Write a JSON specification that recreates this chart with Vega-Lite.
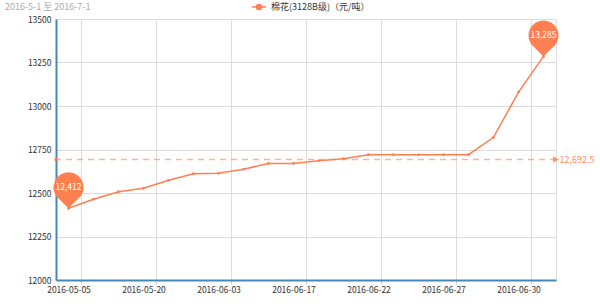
{
  "$schema": "https://vega.github.io/schema/vega-lite/v6.json",
  "width": 500,
  "height": 261,
  "autosize": {"type": "none"},
  "padding": {"left": 56, "top": 19, "right": 44, "bottom": 27},
  "config": {
    "font": "Noto Sans CJK SC",
    "view": {"stroke": "#dddddd"}
  },
  "title": {
    "text": "2016-5-1 至 2016-7-1",
    "anchor": "start",
    "frame": "group",
    "dx": -51,
    "dy": 17,
    "fontSize": 9,
    "fontWeight": "normal",
    "color": "#aaaaaa",
    "offset": 6
  },
  "data": {
    "values": [
      {"date": "2016-05-05", "price": 12412},
      {"date": "2016-05-10", "price": 12464},
      {"date": "2016-05-13", "price": 12507},
      {"date": "2016-05-20", "price": 12527},
      {"date": "2016-05-24", "price": 12573},
      {"date": "2016-05-27", "price": 12611},
      {"date": "2016-06-03", "price": 12613},
      {"date": "2016-06-08", "price": 12636},
      {"date": "2016-06-13", "price": 12670},
      {"date": "2016-06-17", "price": 12670},
      {"date": "2016-06-20", "price": 12685},
      {"date": "2016-06-21", "price": 12697},
      {"date": "2016-06-22", "price": 12720},
      {"date": "2016-06-23", "price": 12720},
      {"date": "2016-06-24", "price": 12720},
      {"date": "2016-06-27", "price": 12720},
      {"date": "2016-06-28", "price": 12720},
      {"date": "2016-06-29", "price": 12820},
      {"date": "2016-06-30", "price": 13080},
      {"date": "2016-07-01", "price": 13285}
    ]
  },
  "layer": [
    {
      "transform": [{"aggregate": [{"op": "mean", "field": "price", "as": "avg"}]}],
      "mark": {"type": "rule", "color": "#ff7f50", "opacity": 0.6, "strokeDash": [6, 5], "strokeWidth": 1.5},
      "encoding": {
        "y": {"field": "avg", "type": "quantitative", "scale": {"domain": [12000, 13500], "nice": false}}
      }
    },
    {
      "mark": {"type": "line", "strokeWidth": 1.5},
      "encoding": {
        "x": {
          "field": "date", "type": "ordinal", "title": null,
          "axis": {
            "values": ["2016-05-05", "2016-05-20", "2016-06-03", "2016-06-17", "2016-06-22", "2016-06-27", "2016-06-30"],
            "labelAngle": 0, "grid": true, "gridColor": "#dddddd", "gridWidth": 1,
            "tickOffset": 12.5, "labelOffset": -12.5,
            "tickColor": "#cccccc", "tickSize": 4,
            "domainColor": "#4488bb", "domainWidth": 2,
            "labelFontSize": 8.5, "labelColor": "#333333", "labelPadding": 1
          }
        },
        "y": {
          "field": "price", "type": "quantitative", "title": null,
          "scale": {"domain": [12000, 13500], "nice": false},
          "axis": {
            "values": [12000, 12250, 12500, 12750, 13000, 13250, 13500],
            "grid": true, "gridColor": "#dddddd", "ticks": false,
            "domainColor": "#4488bb", "domainWidth": 2,
            "labelFontSize": 8.5, "labelColor": "#333333", "labelPadding": 5, "format": "d"
          }
        },
        "color": {
          "datum": "棉花(3128B级)（元/吨）",
          "scale": {"range": ["#ff7f50"]},
          "legend": {
            "title": null, "orient": "none", "legendX": 197, "legendY": -18,
            "symbolType": "M-1.4,0 L-0.5,0 M0.5,0 L1.4,0 M-0.5,0 A0.5,0.5 0 1 0 0.5,0 A0.5,0.5 0 1 0 -0.5,0 Z",
            "symbolSize": 100, "symbolFillColor": "#ff7f50", "symbolStrokeColor": "#ff7f50", "symbolStrokeWidth": 1.5,
            "labelFontSize": 9, "labelColor": "#333333", "labelOffset": 6
          }
        }
      }
    },
    {
      "mark": {"type": "point", "filled": true, "size": 8, "color": "#ff7f50", "opacity": 1},
      "encoding": {
        "x": {"field": "date", "type": "ordinal"},
        "y": {"field": "price", "type": "quantitative", "scale": {"domain": [12000, 13500], "nice": false}}
      }
    },
    {
      "transform": [
        {"joinaggregate": [{"op": "mean", "field": "price", "as": "avg"}]},
        {"filter": "datum.date == '2016-07-01'"}
      ],
      "mark": {"type": "point", "filled": true, "size": 36, "color": "#ff7f50", "opacity": 0.8, "shape": "M3.2,-1.1 L5.2,0 L3.2,1.1 Z"},
      "encoding": {
        "x": {"field": "date", "type": "ordinal"},
        "y": {"field": "avg", "type": "quantitative", "scale": {"domain": [12000, 13500], "nice": false}}
      }
    },
    {
      "transform": [
        {"joinaggregate": [{"op": "mean", "field": "price", "as": "avg"}]},
        {"filter": "datum.date == '2016-05-05'"}
      ],
      "mark": {"type": "point", "filled": true, "size": 36, "color": "#ff7f50", "opacity": 0.8, "shape": "M-4.77,0 A0.6,0.6 0 1 1 -3.57,0 A0.6,0.6 0 1 1 -4.77,0 Z"},
      "encoding": {
        "x": {"field": "date", "type": "ordinal"},
        "y": {"field": "avg", "type": "quantitative", "scale": {"domain": [12000, 13500], "nice": false}}
      }
    },
    {
      "transform": [
        {"joinaggregate": [{"op": "mean", "field": "price", "as": "avg"}]},
        {"filter": "datum.date == '2016-07-01'"}
      ],
      "mark": {"type": "text", "align": "left", "baseline": "middle", "dx": 16, "fontSize": 9, "color": "#ff7f50", "opacity": 0.9},
      "encoding": {
        "x": {"field": "date", "type": "ordinal"},
        "y": {"field": "avg", "type": "quantitative", "scale": {"domain": [12000, 13500], "nice": false}},
        "text": {"field": "avg", "type": "quantitative", "format": ",.1f"}
      }
    },
    {
      "transform": [
        {"joinaggregate": [{"op": "max", "field": "price", "as": "pmax"}, {"op": "min", "field": "price", "as": "pmin"}]},
        {"filter": "datum.price == datum.pmax || datum.price == datum.pmin"}
      ],
      "mark": {"type": "point", "filled": true, "size": 900, "color": "#ff7f50", "opacity": 1, "shape": "M0,0 L-0.7,-0.686 A1,1 0 1 1 0.7,-0.686 Z"},
      "encoding": {
        "x": {"field": "date", "type": "ordinal"},
        "y": {"field": "price", "type": "quantitative", "scale": {"domain": [12000, 13500], "nice": false}}
      }
    },
    {
      "transform": [
        {"joinaggregate": [{"op": "max", "field": "price", "as": "pmax"}, {"op": "min", "field": "price", "as": "pmin"}]},
        {"filter": "datum.price == datum.pmax || datum.price == datum.pmin"}
      ],
      "mark": {"type": "text", "align": "center", "baseline": "middle", "dy": -21, "fontSize": 8.5, "color": "#ffffff"},
      "encoding": {
        "x": {"field": "date", "type": "ordinal"},
        "y": {"field": "price", "type": "quantitative", "scale": {"domain": [12000, 13500], "nice": false}},
        "text": {"field": "price", "type": "quantitative", "format": ","}
      }
    }
  ]
}
